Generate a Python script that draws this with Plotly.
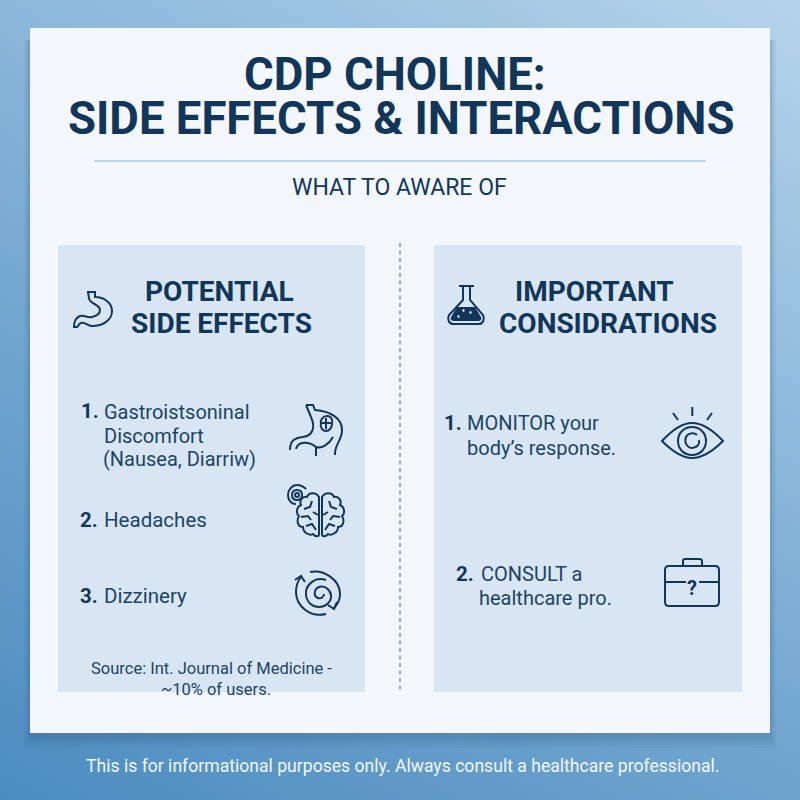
import plotly.graph_objects as go

TITLE_FONT = "Roboto"
BODY_FONT = "Roboto"
NAVY = "#12365a"
INK = "#1d4465"

# --- texts ---
title_lines = ["CDP CHOLINE:", "SIDE EFFECTS & INTERACTIONS"]
subtitle = "WHAT TO AWARE OF"
left_header = ["POTENTIAL", "SIDE EFFECTS"]
right_header = ["IMPORTANT", "CONSIDRATIONS"]
left_numbers = ["1.", "2.", "3."]
left_items = ["Gastroistsoninal", "Discomfort", "(Nausea, Diarriw)", "Headaches", "Dizzinery"]
right_numbers = ["1.", "2."]
right_items = ["MONITOR your", "body’s response.", "CONSULT a", "healthcare pro."]
source_lines = ["Source: Int. Journal of Medicine -", "~10% of users."]
footer = "This is for informational purposes only. Always consult a healthcare professional."

# --- background gradient, corner tones ---
bg_x = [0, 800]
bg_y = [0, 800]
bg_z = [[0.6, 1.0], [0.0, 0.32]]

# --- icons ---
stomach_small = ("M88 292 L95 292 L95 297 C104 297 112 303 112 311 C112 320 103 326 92 326 "
                 "C87 326 85 321 81 323 C78 324 78 327 77 327 L74 327 C74 322 75 318 80 316 "
                 "C84 315 88 318 92 317 C97 316 100 314 100 310 C100 304 89 304 89 298 Z")
stomach_big = ["M306 405 L313 405 L315 410 C330 411 342 418 342 430 C342 441 334 445 335 455",
               "M306 405 L311 417 C316 428 312 436 303 437 C294 438 290 441 290 450",
               "M296 449 C298 441 309 441 316 447 C322 449 329 444 333 437 M316 447 L316 456",
               "M327 416 C332 416 333 421 332 424 C332 428 329 431 326 431 C322 431 320 427 321 423 "
               "C320 420 323 416 327 416 M326 418 L326 429 M322 423 L331 423"]
brain = ["M319 497 C316 492 309 492 307 497 C302 496 299 501 301 505 C296 507 296 514 299 516 "
         "C296 521 298 527 303 527 C303 533 310 536 313 534 C315 537 319 537 319 534 Z",
         "M322 497 C325 492 332 492 334 497 C339 496 342 501 340 505 C345 507 345 514 342 516 "
         "C345 521 343 527 338 527 C338 533 331 536 328 534 C326 537 322 537 322 534 Z",
         "M304 509 L310 507 L312 501 M301 517 L308 516 L311 520 M306 526 L312 524 L316 530 M313 512 L318 515",
         "M337 509 L331 507 L329 501 M340 517 L333 516 L330 520 M335 526 L329 524 L325 530 M328 512 L323 515",
         "M297 490 C300 490 302 492 302 495 C302 498 300 500 297 500 C294 500 292 498 292 495 C292 492 294 490 297 490 Z",
         "M297 493 C298 493 299 494 299 495 C299 496 298 497 297 497 C296 497 295 496 295 495 C295 494 296 493 297 493 Z",
         "M296 504 C291 504 288 500 288 495 C288 490 292 485 297 485 C301 485 304 487 306 489"]
spiral = ["M310 572 C324 569 340 580 340 594 C340 599 338 604 334 608",
          "M328 605 L334 609 L337 602",
          "M326 614 C310 618 296 606 296 592 C296 586 297 582 301 577",
          "M295 580 L301 576 L305 582",
          "M326 580 C314 576 305 586 306 595 C307 603 313 607 319 607 C326 607 332 601 331 595 "
          "C330 589 324 585 319 587 C314 589 313 596 318 598 C321 599 324 597 324 594"]
flask = ["M459 286 L474 286 M463 286 L463 300 L449 315 C447 319 449 324 453 324 L479 324 "
         "C483 324 485 319 483 315 L470 300 L470 286"]
flask_liquid = "M457 307 L475 307 L481 317 C482 320 480 321 478 321 L454 321 C452 321 450 320 451 317 Z"
flask_bubbles = ["M463.5 309 C465 309 465 312 463.5 312 C462 312 462 309 463.5 309 Z",
                 "M458.5 315 C460 315 460 318 458.5 318 C457 318 457 315 458.5 315 Z",
                 "M470.5 311 C472 311 472 314 470.5 314 C469 314 469 311 470.5 311 Z"]
eye = ["M662 441 C675 427 685 423 692 423 C700 423 710 427 723 441 C710 454 700 458 692 458 "
       "C685 458 675 454 662 441 Z",
       "M692 427 C700 427 706 433 706 441 C706 449 700 455 692 455 C684 455 678 449 678 441 C678 433 684 427 692 427 Z",
       "M697 435 C694 432 688 433 686 437 C684 442 687 448 692 448 C697 448 700 444 699 440",
       "M692.3 407 L692.3 416", "M673 413 L678 420", "M712 413 L707 420"]
briefcase = ["M669 566 L715 566 C718 566 719 567 719 570 L719 602 C719 605 718 606 715 606 L669 606 "
             "C666 606 665 605 665 602 L665 570 C665 567 666 566 669 566 Z",
             "M683 566 L683 561 C683 560 684 559 685 559 L699 559 C701 559 702 560 702 561 L702 566",
             "M665 582 L686 582", "M699 582 L719 582"]

fig = go.Figure()
fig.add_trace(go.Heatmap(x=bg_x, y=bg_y, z=bg_z, zsmooth="best", showscale=False, hoverinfo="skip",
                         colorscale=[[0, "#4c8cc0"], [1, "#b5d4eb"]], zmin=0, zmax=1))


def rect(x0, y0, x1, y1, color, opacity=1.0):
    fig.add_shape(type="rect", x0=x0, y0=y0, x1=x1, y1=y1, fillcolor=color, opacity=opacity,
                  line_width=0)


def stroke(path, width=2):
    fig.add_shape(type="path", path=path, line=dict(color=NAVY, width=width))


def label(x, y, text, size, color=INK, bold=False, anchor="left", family=BODY_FONT):
    if bold:
        text = "<b>" + text + "</b>"
    fig.add_annotation(x=x, y=y, text=text, showarrow=False, xanchor=anchor, yanchor="middle",
                       borderpad=0, font=dict(family=family, size=size, color=color))


# card and its soft shadow, only really visible below
for grow in [12, 9, 6, 4, 2]:
    rect(30 - grow / 2, 40, 770 + grow / 2, 733 + grow + 3, "#234f78", 0.05)
rect(30, 28, 770, 733, "#f3f7fb")

# panels
rect(58, 245, 365, 692, "#d8e6f3")
rect(434, 245, 742, 692, "#d8e6f3")

# rule and divider
fig.add_shape(type="line", x0=94, x1=706, y0=161, y1=161, line=dict(color="#a9cdeb", width=1.5))
fig.add_shape(type="line", x0=400, x1=400, y0=243, y1=692,
              line=dict(color="#6f98bc", width=1.5, dash="4px,3.5px"))

# icons
stroke(stomach_small)
for p in stomach_big + brain + spiral + flask + eye + briefcase:
    stroke(p)
fig.add_shape(type="path", path=flask_liquid, fillcolor=NAVY, line_width=0)
for p in flask_bubbles:
    fig.add_shape(type="path", path=p, fillcolor="#d8e6f3", line_width=0)

# heading
label(395, 74, title_lines[0], 45.5, NAVY, True, "center", TITLE_FONT)
label(401, 118.5, title_lines[1], 45.5, NAVY, True, "center", TITLE_FONT)
label(399, 187, subtitle, 23, NAVY, False, "center")

# panel headers
label(219, 291, left_header[0], 28, NAVY, True, "center")
label(221, 323, left_header[1], 28, NAVY, True, "center")
label(594, 291, right_header[0], 28, NAVY, True, "center")
label(608, 323, right_header[1], 28, NAVY, True, "center")

# left list
label(80, 411, left_numbers[0], 20.5, NAVY, True)
label(79, 520, left_numbers[1], 20.5, NAVY, True)
label(79, 596, left_numbers[2], 20.5, NAVY, True)
label(103, 412, left_items[0], 20)
label(103, 436, left_items[1], 20)
label(102, 459, left_items[2], 20)
label(103, 520, left_items[3], 20.5)
label(103, 596, left_items[4], 20.5)
label(211, 668, source_lines[0], 16.5, anchor="center")
label(216, 689, source_lines[1], 16.5, anchor="center")

# right list
label(443, 423, right_numbers[0], 20.5, NAVY, True)
label(455, 574, right_numbers[1], 20.5, NAVY, True)
label(466, 423, right_items[0], 20)
label(466, 448, right_items[1], 20)
label(480, 574, right_items[2], 20)
label(478, 598, right_items[3], 20)
label(692, 588, "?", 20, NAVY, True, "center")

# footer
label(402, 766, footer, 17.6, "#f2f7fc", False, "center")

fig.update_xaxes(range=[0, 800], visible=False, fixedrange=True)
fig.update_yaxes(range=[800, 0], visible=False, fixedrange=True)
fig.update_layout(width=800, height=800, margin=dict(l=0, r=0, t=0, b=0), showlegend=False,
                  paper_bgcolor="#8db8da", plot_bgcolor="#8db8da")

fig.write_html("out.html", config={"displayModeBar": False},
               post_script="document.body.style.margin='0';document.body.style.overflow='hidden';")
